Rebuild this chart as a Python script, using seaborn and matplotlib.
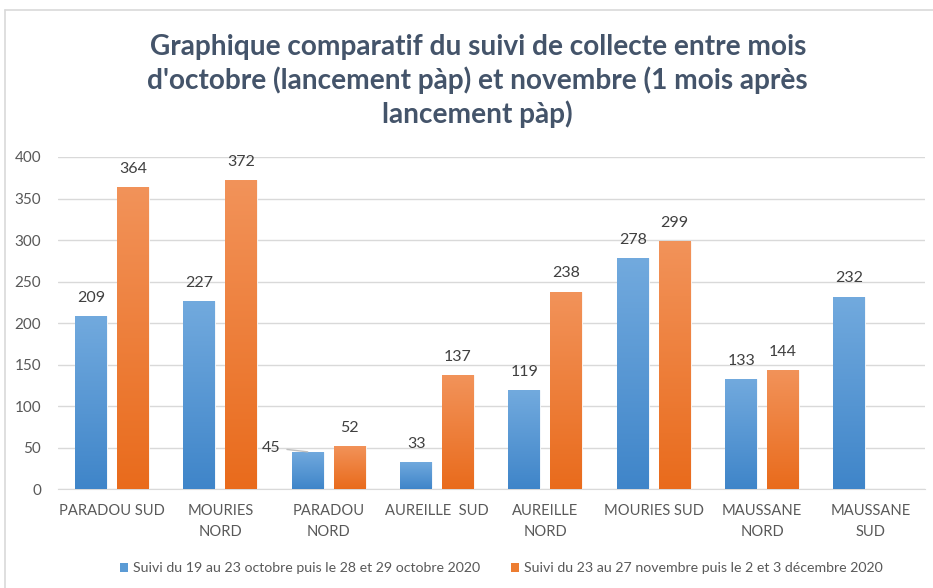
import numpy as np
import pandas as pd
import matplotlib
matplotlib.use("Agg")
import matplotlib.pyplot as plt
import seaborn as sns
from matplotlib.colors import LinearSegmentedColormap
from matplotlib.lines import Line2D
from matplotlib.patches import Patch

categories = ["PARADOU SUD", "MOURIES\nNORD", "PARADOU\nNORD", "AUREILLE  SUD",
              "AUREILLE\nNORD", "MOURIES SUD", "MAUSSANE\nNORD", "MAUSSANE\nSUD"]
octobre = [209, 227, 45, 33, 119, 278, 133, 232]
novembre = [364, 372, 52, 137, 238, 299, 144, np.nan]
series = ["Suivi du 19 au 23 octobre puis le 28 et 29 octobre 2020",
          "Suivi du 23 au 27 novembre puis le 2 et 3 décembre 2020"]

df = pd.DataFrame({
    "site": categories * 2,
    "valeur": octobre + novembre,
    "suivi": [series[0]] * len(categories) + [series[1]] * len(categories),
})

sns.set_style("white")
plt.rcParams["font.family"] = ["Lato", "DejaVu Sans"]

blue, orange = "#5b9bd5", "#ed7d31"
grads = {
    blue: LinearSegmentedColormap.from_list("b", ["#3f85c9", "#72aade"]),
    orange: LinearSegmentedColormap.from_list("o", ["#e96b1c", "#f2935a"]),
}

fig = plt.figure(figsize=(9.33, 5.88), dpi=100)
ax = fig.add_axes([0.062, 0.168, 0.929, 0.565])

sns.barplot(data=df, x="site", y="valeur", hue="suivi", palette=[blue, orange],
            width=0.775, gap=0.24, ax=ax, legend=False, zorder=3)

ax.set_yticks(range(0, 401, 50))
ax.yaxis.grid(True, color="#d9d9d9", lw=1, zorder=0)
ax.set_xlabel("")
ax.set_ylabel("")
for s in ["top", "right", "left"]:
    ax.spines[s].set_visible(False)
ax.spines["bottom"].set_color("#d9d9d9")
ax.tick_params(axis="y", length=0, labelsize=11, colors="#595959", pad=12)
ax.tick_params(axis="x", length=0, labelsize=10.6, colors="#595959", pad=11)
for t in ax.get_xticklabels():
    t.set_linespacing(1.55)

# gradient fill on each bar, lighter at the top
grad = np.linspace(0, 1, 256).reshape(-1, 1)
for cont, col in zip(ax.containers, [blue, orange]):
    for bar in cont:
        h = bar.get_height()
        if not np.isfinite(h) or h == 0:
            continue
        x0, w = bar.get_x(), bar.get_width()
        im = ax.imshow(grad, cmap=grads[col], aspect="auto", origin="lower",
                       extent=[x0, x0 + w, 0, h], zorder=3.5)
        im.set_clip_path(bar)
        bar.set_edgecolor("white")
        bar.set_linewidth(0.6)
ax.set_xlim(-0.5, len(categories) - 0.5)
ax.set_ylim(0, 400)

# data labels
for cont in ax.containers:
    for bar in cont:
        h = bar.get_height()
        if not np.isfinite(h):
            continue
        cx = bar.get_x() + bar.get_width() / 2
        if h == 45:
            ax.annotate("45", xy=(cx, h), xytext=(-26, 3), textcoords="offset points",
                        ha="center", va="center", fontsize=11.5, color="#404040", zorder=6,
                        arrowprops=dict(arrowstyle="-", color="#bfbfbf", lw=1,
                                        shrinkA=2, shrinkB=0))
        else:
            ax.annotate(f"{int(h)}", xy=(cx, h), xytext=(0, 8), textcoords="offset points",
                        ha="center", va="bottom", fontsize=11.5, color="#404040", zorder=6)

fig.text(0.512, 0.862, "Graphique comparatif du suivi de collecte entre mois\n"
         "d'octobre (lancement pàp) et novembre (1 mois après\nlancement pàp)",
         ha="center", va="center", fontsize=20.2, fontweight="bold", color="#44546a",
         linespacing=1.28)

handles = [Patch(facecolor=blue, edgecolor="none"), Patch(facecolor=orange, edgecolor="none")]
fig.legend(handles, series, loc="center", bbox_to_anchor=(0.537, 0.034), ncol=2,
           frameon=False, fontsize=10.2, handlelength=0.6, handleheight=0.6,
           handletextpad=0.3, columnspacing=2.2, labelcolor="#595959")

# chart frame edges
fig.add_artist(Line2D([0.005, 1], [0.983, 0.983], color="#d9d9d9", lw=1.2))
fig.add_artist(Line2D([0.005, 0.005], [0, 0.983], color="#d9d9d9", lw=1.2))

fig.savefig("out.png", dpi=100)
